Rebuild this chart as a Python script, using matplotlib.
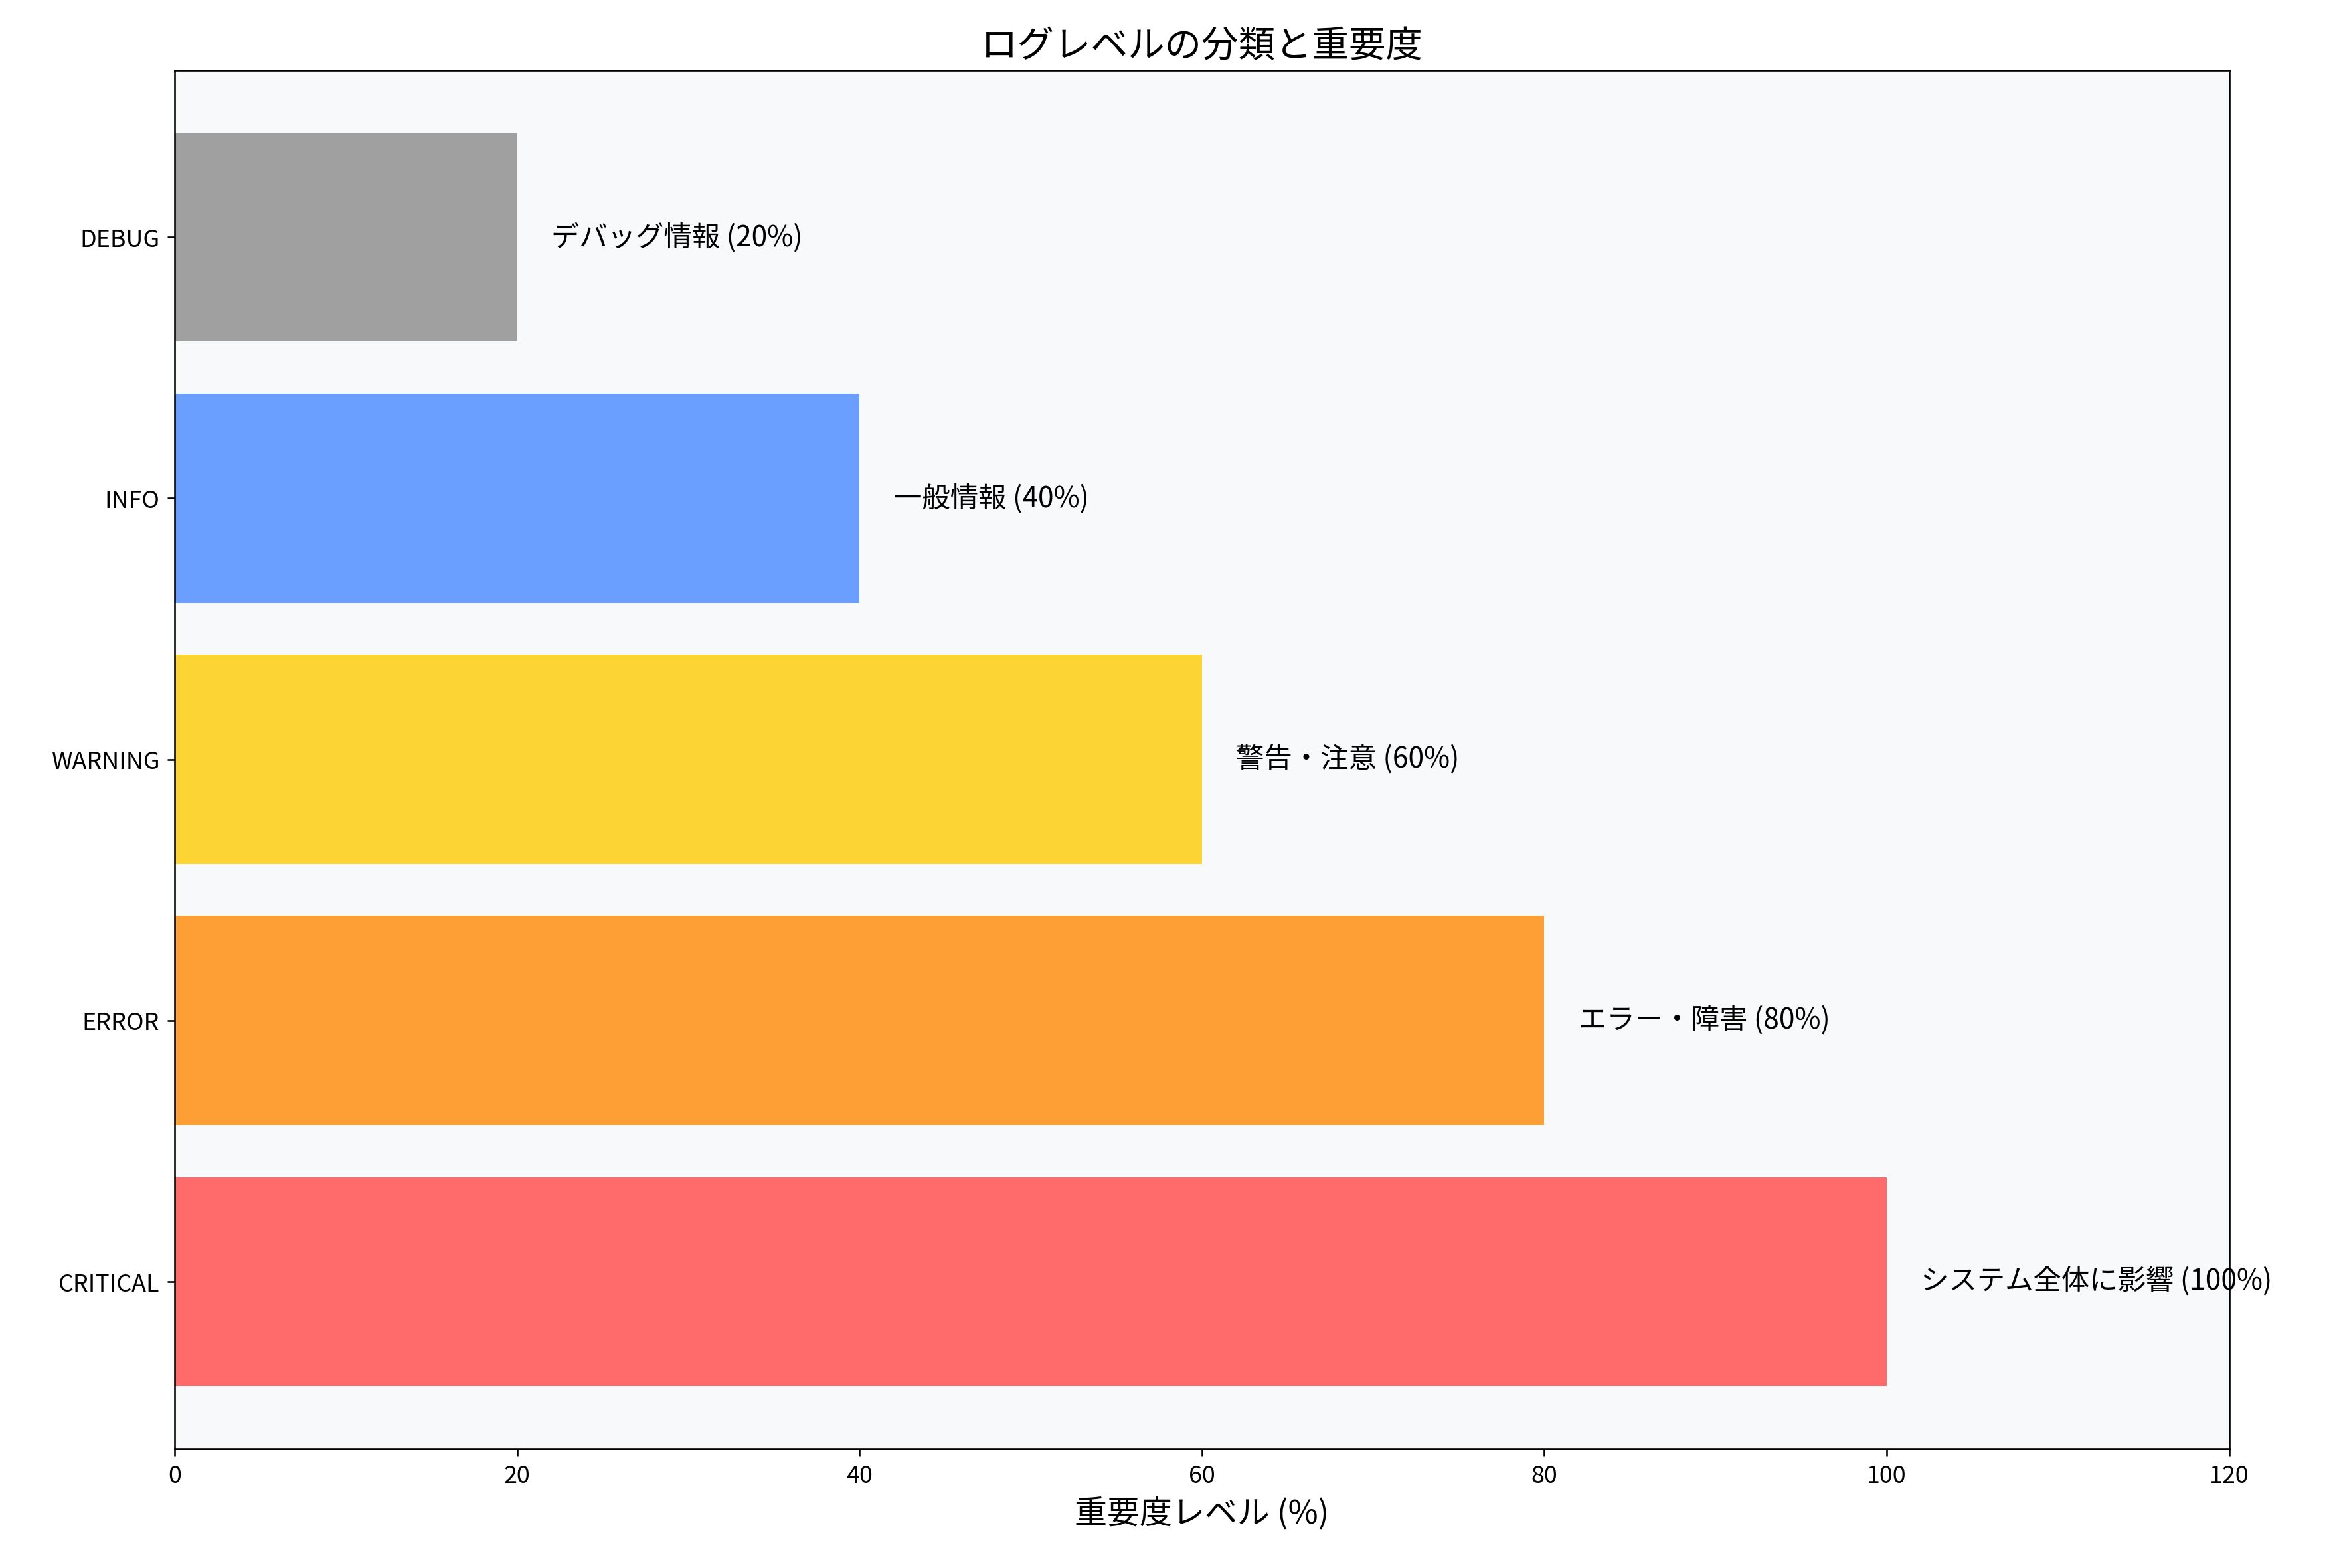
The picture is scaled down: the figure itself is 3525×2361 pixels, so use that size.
import matplotlib
matplotlib.use("Agg")
import matplotlib.pyplot as plt

plt.rcParams["font.family"] = ["Noto Sans CJK JP", "DejaVu Sans"]

levels = ["CRITICAL", "ERROR", "WARNING", "INFO", "DEBUG"]
values = [100, 80, 60, 40, 20]
notes = ["システム全体に影響", "エラー・障害", "警告・注意", "一般情報", "デバッグ情報"]
colors = ["#FF6B6B", "#FD9F35", "#FCD535", "#6A9FFF", "#A0A0A0"]

fig = plt.figure(figsize=(15.0, 10.05), dpi=235)
ax = fig.add_axes([0.0746, 0.076, 0.8776, 0.879])
ax.set_facecolor("#F8F9FA")
ax.barh(levels, values, color=colors, height=0.8)
for i, (v, n) in enumerate(zip(values, notes)):
    ax.text(v + 2, i, f"{n} ({v}%)", va="center", fontsize=13)
ax.set_xlim(0, 120)
ax.set_xlabel("重要度レベル (%)", fontsize=15)
ax.set_title("ログレベルの分類と重要度", fontsize=17)
ax.tick_params(labelsize=11)
fig.savefig("out.png")
